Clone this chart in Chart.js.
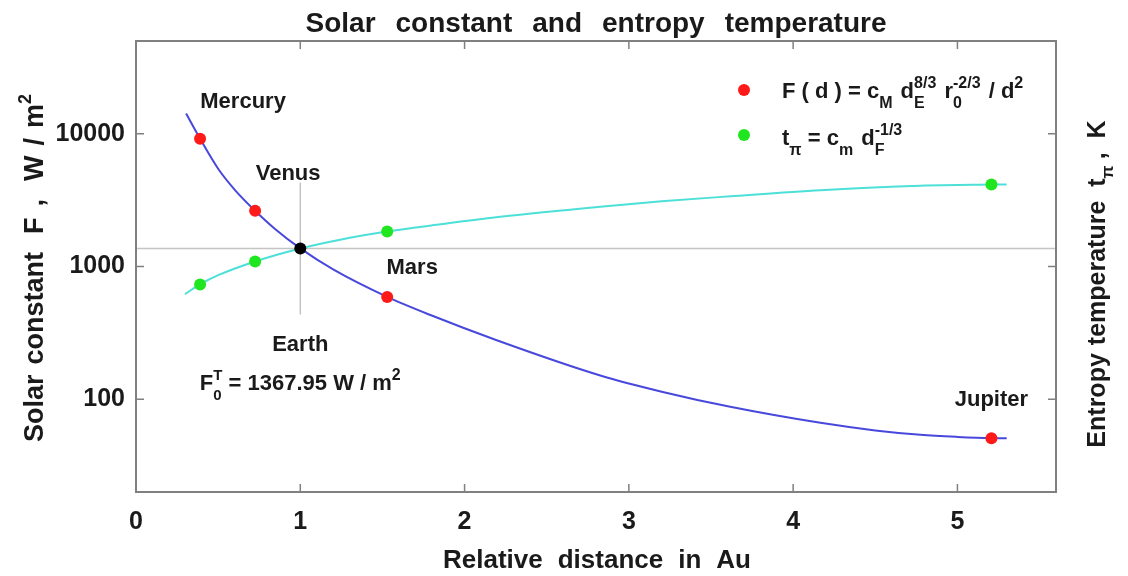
<!DOCTYPE html>
<html>
<head>
<meta charset="utf-8">
<script src="https://cdn.jsdelivr.net/npm/chart.js@4"></script>
<style>
html,body{margin:0;padding:0;background:#fff;}
canvas{display:block;}
</style>
</head>
<body>
<canvas id="c" width="1128" height="576"></canvas>
<script>
// ---- data ----
const xTicks = [0, 1, 2, 3, 4, 5];
const yTicks = [100, 1000, 10000];
const planetNames = ['Mercury', 'Venus', 'Earth', 'Mars', 'Jupiter'];
const planetDist = [0.39, 0.725, 1.0, 1.529, 5.207];
const fluxPoints = [9170, 2630, 1368, 590, 50.9];
const tempPoints = [733, 1092, 1368, 1833, 4140];
const solarConstant = 1367.95;
const crossVertical = [435, 4285];
const crossHorizontalX = [0, 5.6];

const fluxCurveX = [0.305, 0.39, 0.5, 0.6, 0.725, 0.85, 1.0, 1.2, 1.529, 1.8, 2.2, 2.826, 3.2, 3.617, 4.166, 4.5, 4.775, 5.0, 5.207, 5.3];
const fluxCurveY = [14200, 9170, 5450, 3800, 2630, 1900, 1368, 950, 590, 427, 277, 151, 114, 87.7, 66.4, 58.2, 53.9, 52.0, 50.9, 50.8];
const tempCurveX = [0.298, 0.39, 0.5, 0.725, 1.0, 1.25, 1.529, 1.8, 2.217, 2.826, 3.2, 3.617, 4.166, 4.775, 5.207, 5.3];
const tempCurveY = [620, 733, 860, 1092, 1368, 1600, 1833, 2040, 2370, 2825, 3100, 3380, 3760, 4064, 4140, 4150];

// ---- helpers ----
const FF = "'Liberation Sans', Arial, Helvetica, sans-serif";
const TXT = '#1a1a1a';
const pts = (xs, ys) => xs.map((x, i) => ({x: x, y: ys[i]}));
const earthIdx = planetNames.indexOf('Earth');
const without = (arr) => arr.filter((_, i) => i !== earthIdx);

function fnt(size) { return 'bold ' + size + 'px ' + FF; }

function richWidth(ctx, segs) {
  let w = 0;
  for (const s of segs) {
    if (s.gap !== undefined) { w += s.gap; continue; }
    if (s.t !== undefined) { ctx.font = fnt(s.size); w += ctx.measureText(s.t).width; continue; }
    ctx.font = fnt(s.size);
    const a = s.sup ? ctx.measureText(s.sup).width : 0;
    const b = s.sub ? ctx.measureText(s.sub).width : 0;
    w += Math.max(a, b);
  }
  return w;
}
function drawRich(ctx, segs, x, y, align) {
  const w = richWidth(ctx, segs);
  let cx = align === 'center' ? x - w / 2 : x;
  ctx.textAlign = 'left';
  ctx.textBaseline = 'alphabetic';
  ctx.fillStyle = TXT;
  for (const s of segs) {
    if (s.gap !== undefined) { cx += s.gap; continue; }
    ctx.font = fnt(s.size);
    if (s.t !== undefined) { ctx.fillText(s.t, cx, y); cx += ctx.measureText(s.t).width; continue; }
    let a = 0, b = 0;
    if (s.sup) { ctx.fillText(s.sup, cx, y + (s.supDy || -10)); a = ctx.measureText(s.sup).width; }
    if (s.sub) { ctx.fillText(s.sub, cx, y + (s.subDy || 10)); b = ctx.measureText(s.sub).width; }
    cx += Math.max(a, b);
  }
}
function drawWords(ctx, text, x, y, size, gap) {
  const words = text.split(' ');
  const segs = [];
  words.forEach((w, i) => { if (i) segs.push({gap: gap}); segs.push({t: w, size: size}); });
  drawRich(ctx, segs, x, y, 'center');
}

const decor = {
  id: 'decor',
  afterDatasetsDraw(chart) {
    const ctx = chart.ctx, a = chart.chartArea, sx = chart.scales.x, sy = chart.scales.y;
    ctx.save();
    ctx.strokeStyle = '#808080';
    ctx.lineWidth = 2;
    ctx.strokeRect(a.left, a.top, a.right - a.left, a.bottom - a.top);
    ctx.lineWidth = 1.5;
    ctx.beginPath();
    for (const t of sx.ticks) {
      const px = sx.getPixelForValue(t.value);
      ctx.moveTo(px, a.bottom); ctx.lineTo(px, a.bottom - 8);
      ctx.moveTo(px, a.top); ctx.lineTo(px, a.top + 8);
    }
    for (const t of sy.ticks) {
      const py = sy.getPixelForValue(t.value);
      ctx.moveTo(a.left, py); ctx.lineTo(a.left + 8, py);
      ctx.moveTo(a.right, py); ctx.lineTo(a.right - 8, py);
    }
    ctx.stroke();
    ctx.restore();
  },
  afterDraw(chart) {
    const ctx = chart.ctx, sx = chart.scales.x, sy = chart.scales.y;
    ctx.save();
    // title
    drawWords(ctx, 'Solar constant and entropy temperature', 596, 32, 28, 20);
    // x title
    drawWords(ctx, 'Relative distance in Au', 597, 568, 26, 15);
    // left y title
    ctx.save();
    ctx.translate(43, 268);
    ctx.rotate(-Math.PI / 2);
    drawRich(ctx, [
      {t: 'Solar', size: 27}, {gap: 10}, {t: 'constant', size: 27}, {gap: 18}, {t: 'F', size: 27}, {gap: 11},
      {t: ',', size: 27}, {gap: 18}, {t: 'W', size: 27}, {gap: 10}, {t: '/', size: 27}, {gap: 10},
      {t: 'm', size: 27}, {sup: '2', size: 18, supDy: -12}
    ], 0, 0, 'center');
    ctx.restore();
    // right y title
    ctx.save();
    ctx.translate(1105, 284);
    ctx.rotate(-Math.PI / 2);
    drawRich(ctx, [
      {t: 'Entropy', size: 25}, {gap: 8}, {t: 'temperature', size: 25}, {gap: 14}, {t: 't', size: 25},
      {sub: 'π', size: 17, subDy: 8}, {gap: 6}, {t: ',', size: 25}, {gap: 14}, {t: 'K', size: 25}
    ], 0, 0, 'center');
    ctx.restore();

    // planet labels (offset from their points)
    const offs = {Mercury: [43, -31], Venus: [33, -31], Earth: [0, 103], Mars: [25, -23], Jupiter: [0, -32]};
    planetNames.forEach((n, i) => {
      const px = sx.getPixelForValue(planetDist[i]);
      const py = sy.getPixelForValue(fluxPoints[i]);
      ctx.font = fnt(22);
      ctx.textAlign = 'center';
      ctx.textBaseline = 'alphabetic';
      ctx.fillStyle = TXT;
      ctx.fillText(n, px + offs[n][0], py + offs[n][1]);
    });
    // solar constant label
    const ex = sx.getPixelForValue(planetDist[earthIdx]);
    drawRich(ctx, [
      {t: 'F', size: 22}, {sup: 'T', sub: '0', size: 15, supDy: -10, subDy: 10},
      {t: ' = ' + solarConstant.toFixed(2) + ' W / m', size: 22}, {sup: '2', size: 16, supDy: -10}
    ], ex, 390, 'center');

    // legend
    ctx.fillStyle = '#ff1a1a';
    ctx.beginPath(); ctx.arc(744, 90, 6, 0, Math.PI * 2); ctx.fill();
    ctx.fillStyle = '#1fe61f';
    ctx.beginPath(); ctx.arc(744, 135, 6, 0, Math.PI * 2); ctx.fill();
    drawRich(ctx, [
      {t: 'F ( d ) = c', size: 22}, {sub: 'M', size: 16}, {gap: 2}, {t: ' d', size: 22},
      {sup: '8/3', sub: 'E', size: 16}, {gap: 2}, {t: ' r', size: 22}, {sup: '-2/3', sub: '0', size: 16},
      {gap: 2}, {t: ' / d', size: 22}, {sup: '2', size: 16}
    ], 782, 98, 'left');
    drawRich(ctx, [
      {t: 't', size: 22}, {sub: 'π', size: 16}, {t: ' = c', size: 22}, {sub: 'm', size: 16}, {gap: 2},
      {t: ' d', size: 22}, {sup: '-1/3', sub: 'F', size: 16}
    ], 782, 145, 'left');
    ctx.restore();
  }
};

const tickFont = {family: FF, size: 25, weight: 'bold'};

new Chart(document.getElementById('c'), {
  type: 'scatter',
  data: {
    datasets: [
      {label: 'Earth', data: [{x: planetDist[earthIdx], y: fluxPoints[earthIdx]}], pointRadius: 6, pointBackgroundColor: '#000', pointBorderColor: '#000', pointBorderWidth: 0},
      {label: 'F points', data: pts(without(planetDist), without(fluxPoints)), pointRadius: 6, pointBackgroundColor: '#ff1a1a', pointBorderColor: '#ff1a1a', pointBorderWidth: 0},
      {label: 't points', data: pts(without(planetDist), without(tempPoints)), pointRadius: 6, pointBackgroundColor: '#1fe61f', pointBorderColor: '#1fe61f', pointBorderWidth: 0},
      {label: 'F curve', data: pts(fluxCurveX, fluxCurveY), showLine: true, pointRadius: 0, borderColor: '#4848dc', borderWidth: 2, cubicInterpolationMode: 'monotone'},
      {label: 't curve', data: pts(tempCurveX, tempCurveY), showLine: true, pointRadius: 0, borderColor: '#4ce0d8', borderWidth: 2, cubicInterpolationMode: 'monotone'},
      {label: 'h', data: pts(crossHorizontalX, [solarConstant, solarConstant]), showLine: true, pointRadius: 0, borderColor: '#c4c4c4', borderWidth: 1.5},
      {label: 'v', data: pts([1, 1], crossVertical), showLine: true, pointRadius: 0, borderColor: '#c4c4c4', borderWidth: 1.5}
    ]
  },
  options: {
    responsive: false,
    animation: false,
    devicePixelRatio: 1,
    layout: {padding: {top: 41, right: 72, left: 0, bottom: 0}},
    plugins: {legend: {display: false}, tooltip: {enabled: false}, title: {display: false}},
    scales: {
      x: {
        type: 'linear', min: 0, max: 5.6, position: 'bottom',
        afterBuildTicks: s => { s.ticks = xTicks.map(v => ({value: v})); },
        afterFit: s => { s.height = 84; },
        grid: {display: false, drawTicks: false},
        border: {display: false},
        ticks: {font: tickFont, color: TXT, padding: 15, maxRotation: 0, callback: v => String(v)}
      },
      y: {
        type: 'logarithmic', min: 20, max: 50000, position: 'left',
        afterBuildTicks: s => { s.ticks = yTicks.map(v => ({value: v})); },
        afterFit: s => { s.width = 136; },
        grid: {display: false, drawTicks: false},
        border: {display: false},
        ticks: {font: tickFont, color: TXT, padding: 11, callback: v => String(v)}
      }
    }
  },
  plugins: [decor]
});
</script>
</body>
</html>
